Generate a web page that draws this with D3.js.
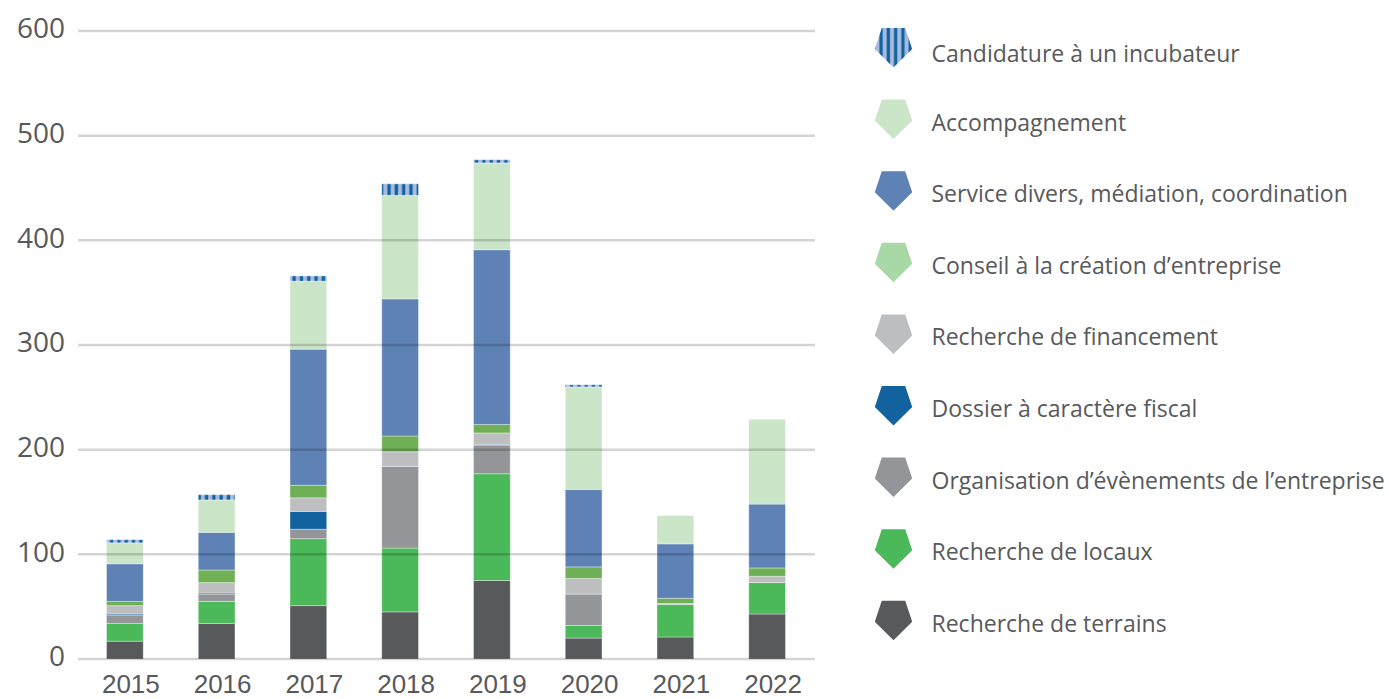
<!DOCTYPE html>
<html>
<head>
<meta charset="utf-8">
<script src="https://d3js.org/d3.v7.min.js"></script>
<style>
  body { margin: 0; background: #fff; }
  svg text { fill: #58595b; }
</style>
</head>
<body>
<div id="chart"></div>
<script>
// données
const years = ["2015", "2016", "2017", "2018", "2019", "2020", "2021", "2022"];
const terrains       = [17, 34, 51, 45, 75, 20, 21, 43];
const locaux         = [17, 21, 64, 61, 102, 12, 31, 30];
const evenements     = [8, 7, 9, 78, 27, 30, 0, 0];
const fiscal         = [1, 1, 17, 0, 1, 0, 0, 0];
const financement    = [8, 10, 13, 14, 11, 15, 1, 6];
const conseil        = [4, 12, 12, 15, 8, 11, 5, 8];
const service        = [36, 36, 130, 131, 167, 74, 52, 61];
const accompagnement = [20, 31, 65, 99, 83, 98, 27, 81];
const candidature    = [3, 5, 5, 11, 3, 2, 0, 0];
const yTicks = [0, 100, 200, 300, 400, 500, 600];

// séries de bas en haut
const series = [
  {key: "terrains", label: "Recherche de terrains", values: terrains, color: "#58595b"},
  {key: "locaux", label: "Recherche de locaux", values: locaux, color: "#4bb85a"},
  {key: "evenements", label: "Organisation d’évènements de l’entreprise", values: evenements, color: "#939598"},
  {key: "fiscal", label: "Dossier à caractère fiscal", values: fiscal, color: "#1262a0"},
  {key: "financement", label: "Recherche de financement", values: financement, color: "#bcbec0"},
  {key: "conseil", label: "Conseil à la création d’entreprise", values: conseil, color: "#6fb056", legendColor: "#a8d8a6"},
  {key: "service", label: "Service divers, médiation, coordination", values: service, color: "#5e82b5"},
  {key: "accompagnement", label: "Accompagnement", values: accompagnement, color: "#cbe5c9"},
  {key: "candidature", label: "Candidature à un incubateur", values: candidature, color: "url(#stripes)"}
];

const rows = years.map((yr, i) => {
  const r = {year: yr};
  series.forEach(s => r[s.key] = s.values[i]);
  return r;
});

const W = 1389, H = 699;
const svg = d3.select("#chart").append("svg")
  .attr("width", W).attr("height", H);

// motif rayé pour les candidatures
const pat = svg.append("defs").append("pattern")
  .attr("id", "stripes")
  .attr("patternUnits", "userSpaceOnUse")
  .attr("width", 7.3).attr("height", 10);
pat.append("rect").attr("width", 7.3).attr("height", 10).attr("fill", "#a9bcdf");
pat.append("rect").attr("x", 0.5).attr("width", 3.3).attr("height", 10).attr("fill", "#1262a0");

const x = d3.scaleBand().domain(years).range([79, 813])
  .paddingInner(0.6).paddingOuter(0.3);
const y = d3.scaleLinear().domain([0, 600]).range([659, 31]);

const stacked = d3.stack().keys(series.map(s => s.key))(rows);

// barres empilées
svg.append("g").selectAll("g")
  .data(stacked)
  .join("g")
  .attr("fill", (d, i) => series[i].color)
  .selectAll("rect")
  .data(d => d)
  .join("rect")
  .attr("x", d => x(d.data.year))
  .attr("y", d => y(d[1]))
  .attr("width", x.bandwidth())
  .attr("height", d => y(d[0]) - y(d[1]))
  .attr("stroke", "#fff")
  .attr("stroke-opacity", 0.35)
  .attr("stroke-width", d => d[1] > d[0] ? 1 : 0);

// lignes de grille par-dessus
svg.append("g").selectAll("line")
  .data(yTicks)
  .join("line")
  .attr("x1", 78).attr("x2", 815)
  .attr("y1", d => y(d)).attr("y2", d => y(d))
  .attr("stroke", "#000")
  .attr("stroke-opacity", 0.17)
  .attr("stroke-width", 2.5);

// axe Y
const yAxis = svg.append("g")
  .attr("transform", "translate(65,-2)")
  .call(d3.axisLeft(y).tickValues(yTicks).tickSize(0).tickPadding(0));
yAxis.select(".domain").remove();
yAxis.selectAll("text")
  .style("font-family", "'Open Sans', sans-serif")
  .style("font-size", "28px");

// axe X
const xAxis = svg.append("g")
  .attr("transform", "translate(6,675)")
  .call(d3.axisBottom(x).tickSize(0).tickPadding(0));
xAxis.select(".domain").remove();
xAxis.selectAll("text")
  .attr("dy", "0.71em")
  .style("font-family", "'Liberation Sans', Arial, sans-serif")
  .style("font-size", "26px");

// légende (de haut en bas)
const pent = "M-11.7,-20L11.7,-20L18.7,1L0,19.5L-18.7,1Z";
const legend = svg.append("g").selectAll("g")
  .data(series.slice().reverse())
  .join("g")
  .attr("transform", (d, i) => `translate(893.5,${48 + i * 71.6})`);
legend.append("path").attr("d", pent).attr("fill", d => d.legendColor || d.color);
legend.append("text")
  .attr("x", 38).attr("y", (d, i) => i === 0 ? 6 : 3)
  .attr("dy", "0.35em")
  .style("font-family", "'Open Sans', sans-serif")
  .style("font-size", "23px")
  .text(d => d.label);
</script>
</body>
</html>
